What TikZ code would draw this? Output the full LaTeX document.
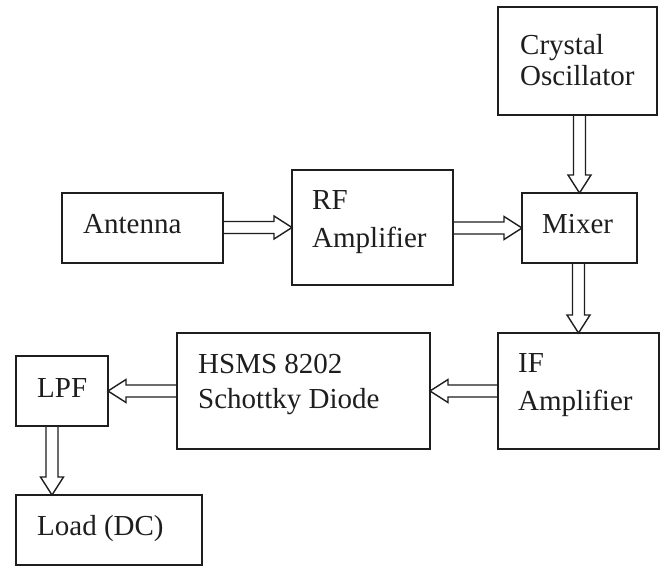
\documentclass[tikz,border=0pt]{standalone}
\usepackage{fontspec}
\setmainfont{Liberation Serif}
\usetikzlibrary{calc}
\definecolor{ink}{HTML}{1E1E1E}
\newcommand\blkR[2]{\draw[conn] let \p1=(#1), \p2=(#2) in
  (\x1,\y2+6pt) -- (\x2-18pt,\y2+6pt) -- (\x2-18pt,\y2+11.5pt) -- (\x2,\y2)
  -- (\x2-18pt,\y2-11.5pt) -- (\x2-18pt,\y2-6pt) -- (\x1,\y2-6pt);}
\newcommand\blkL[2]{\draw[conn] let \p1=(#1), \p2=(#2) in
  (\x1,\y2+6pt) -- (\x2+18pt,\y2+6pt) -- (\x2+18pt,\y2+11.5pt) -- (\x2,\y2)
  -- (\x2+18pt,\y2-11.5pt) -- (\x2+18pt,\y2-6pt) -- (\x1,\y2-6pt);}
\newcommand\blkD[2]{\draw[conn] let \p1=(#1), \p2=(#2) in
  (\x2-6pt,\y1) -- (\x2-6pt,\y2+18pt) -- (\x2-11.5pt,\y2+18pt) -- (\x2,\y2)
  -- (\x2+11.5pt,\y2+18pt) -- (\x2+6pt,\y2+18pt) -- (\x2+6pt,\y1);}
\begin{document}
\begin{tikzpicture}[x=1pt,y=-1pt,
  box/.style={draw=ink,line width=2pt,inner sep=0pt,outer sep=0pt,rectangle},
  conn/.style={draw=ink,line width=1.4pt,line join=miter},
  lbl/.style={anchor=base west,inner sep=0pt,text=ink,font=\fontsize{29}{34}\selectfont}]
\fill[white] (0,0) rectangle (660,567);
\useasboundingbox (0,0) rectangle (660,567);
% boxes
\node[box,minimum width=159pt,minimum height=108pt] (cry) at (577.5,61) {};
\node[box,minimum width=161pt,minimum height=70pt] (ant) at (142.5,228) {};
\node[box,minimum width=161pt,minimum height=115pt] (rf) at (372.5,227.5) {};
\node[box,minimum width=115pt,minimum height=70pt] (mix) at (579.5,228) {};
\node[box,minimum width=161pt,minimum height=116pt] (ifa) at (578.5,391) {};
\node[box,minimum width=253pt,minimum height=116pt] (hsms) at (303.5,391) {};
\node[box,minimum width=92pt,minimum height=70pt] (lpf) at (62,391) {};
\node[box,minimum width=186pt,minimum height=70pt] (load) at (109,530) {};
\coordinate (ldin) at ($(load.north west)+(36,0)$);
% texts
\node[lbl] (t1) at (520,55) {Crystal};
\node[lbl] (t2) at (520,85) {Oscillator};
\node[lbl] (t3) at (83,233) {Antenna};
\node[lbl] (t4) at (312,209) {RF};
\node[lbl] (t5) at (312,247) {Amplifier};
\node[lbl] (t6) at (542,233) {Mixer};
\node[lbl] (t7) at (198,373) {HSMS 8202};
\node[lbl] (t8) at (198,408) {Schottky Diode};
\node[lbl] (t9) at (518,372) {IF};
\node[lbl] (t10) at (518,410) {Amplifier};
\node[lbl] (t11) at (37,397) {LPF};
\node[lbl] (t12) at (37,535) {Load (DC)};
% connectors
\blkR{ant.east}{rf.west}
\blkR{rf.east}{mix.west}
\blkD{cry.south}{mix.north}
\blkD{mix.south}{ifa.north}
\blkL{ifa.west}{hsms.east}
\blkL{hsms.west}{lpf.east}
\blkD{lpf.south}{ldin}
\end{tikzpicture}
\end{document}
